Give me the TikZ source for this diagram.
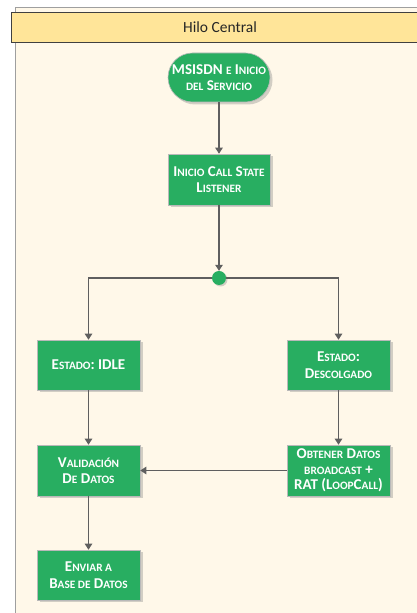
\documentclass[tikz,border=0pt]{standalone}
\usepackage{fontspec}
\setmainfont{Carlito}
\usetikzlibrary{arrows.meta,shadows,positioning}
\definecolor{flowgreen}{HTML}{28AE61}
\definecolor{lanefill}{HTML}{FFF8E9}
\definecolor{headfill}{HTML}{FFE599}
\definecolor{linegray}{HTML}{5F5F5F}
% capitals at reduced size, used for small-capital lettering
\newcommand{\lc}[1]{{\fontsize{11.3}{16.5}\selectfont #1}}
\begin{document}
\begin{tikzpicture}[x=1pt,y=1pt,
  box/.style={draw=gray!55, line width=0.6pt, fill=flowgreen,
    minimum width=103pt, minimum height=50pt, inner sep=1pt,
    text=white, align=center, font=\bfseries\fontsize{15}{16.5}\selectfont,
    drop shadow={shadow xshift=2.5pt, shadow yshift=-2.5pt, opacity=0.35, fill=gray}},
  flow/.style={draw=linegray, line width=1.1pt, -{Triangle[length=6pt,width=7.5pt]}}]
\useasboundingbox (0,0) rectangle (417,613);
% swimlane body
\fill[white] (0,0) rectangle (417,613);
\fill[lanefill] (15.5,0) rectangle (420,605);
\draw[gray!75, line width=1pt] (15.5,0) -- (15.5,605) -- (420,605);
% lane header
\fill[gray!35] (11,569.5) rectangle (420,571.5);
\node[draw=black!75, line width=1pt, fill=headfill, minimum height=30.5pt,
  anchor=north west, minimum width=409pt, inner sep=0pt] (head) at (11,601) {};
\node[font=\fontsize{15.5}{16}\selectfont, text=black!85] (title) at (220,586) {Hilo Central};
% flow steps
\node[box, minimum width=102pt, minimum height=49pt, rounded corners=24.5pt] (start) at (219,535.5)
  {MSISDN \lc{E} I\lc{NICIO}\\\lc{DEL} S\lc{ERVICIO}};
\node[box, minimum width=102pt, minimum height=51pt] (listen) at (219,433.5)
  {I\lc{NICIO} C\lc{ALL} S\lc{TATE}\\L\lc{ISTENER}};
\node[circle, fill=flowgreen, minimum size=14pt, inner sep=0pt,
  drop shadow={shadow xshift=1.5pt, shadow yshift=-1.5pt, opacity=0.35, fill=gray}] (split) at (219,335) {};
\node[box] (idle) at (88.5,248) {E\lc{STADO}: IDLE};
\node[box] (desc) at (338.5,248) {E\lc{STADO}:\\D\lc{ESCOLGADO}};
\node[box, minimum height=51pt] (valid) at (88.5,142.5) {V\lc{ALIDACIÓN}\\D\lc{E} D\lc{ATOS}};
\node[box, minimum height=51pt, font=\bfseries\fontsize{15}{15.5}\selectfont] (fetch) at (338.5,142.5)
  {O\lc{BTENER} D\lc{ATOS}\\\lc{BROADCAST} +\\RAT (L\lc{OOP}C\lc{ALL})};
\node[box] (send) at (88.5,38) {E\lc{NVIAR A}\\B\lc{ASE DE} D\lc{ATOS}};
% connectors
\draw[flow] (start) -- (listen);
\draw[flow] (listen) -- (split);
\draw[flow] (split) -| (idle);
\draw[flow] (split) -| (desc);
\draw[flow] (idle) -- (valid);
\draw[flow] (desc) -- (fetch);
\draw[flow] (fetch) -- (valid);
\draw[flow] (valid) -- (send);
\end{tikzpicture}
\end{document}
